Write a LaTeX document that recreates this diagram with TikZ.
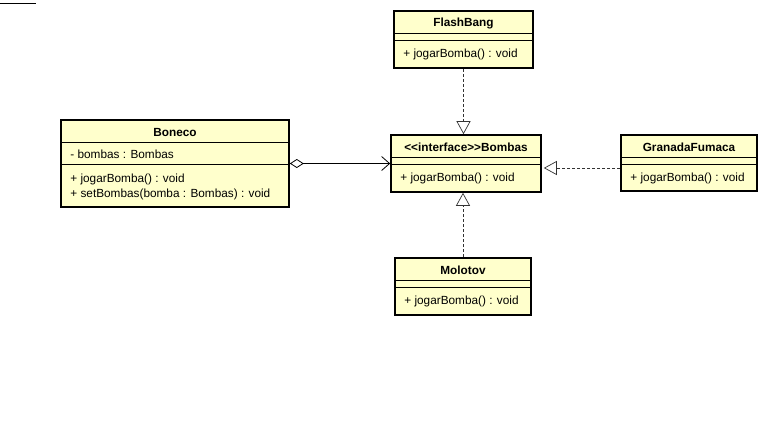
\documentclass[tikz,border=0pt]{standalone}
\usepackage{fontspec}
\setmainfont{Liberation Sans}
\usetikzlibrary{positioning}
\usetikzlibrary{arrows.meta}

\definecolor{umlfill}{HTML}{FFFFCC}

\tikzset{
  classbox/.style={draw=black, line width=1.6pt, fill=umlfill, inner sep=0pt},
  classname/.style={font=\fontsize{11.8pt}{14pt}\selectfont\bfseries, inner sep=0pt},
  member/.style={font=\fontsize{11.8pt}{14pt}\selectfont, inner sep=0pt, anchor=west},
  sep/.style={draw=black, line width=0.8pt},
  realize/.style={draw=black!80, line width=0.7pt, dash pattern=on 3pt off 2pt,
    -{Triangle[open, length=13pt, width=14pt, fill=white]}},
  assoc/.style={draw=black, line width=0.8pt,
    {Diamond[open, length=14pt, width=9pt, fill=white]}-{Straight Barb[length=8pt, width=14pt]}}
}

\begin{document}
\begin{tikzpicture}[x=1pt, y=-1pt]
 \useasboundingbox (0,0) rectangle (762,432);
 \draw[black, line width=0.8pt] (0,3) -- (36,3);

 % classes
 \node[classbox, minimum width=228pt, minimum height=87pt] (boneco) at (175,163.5) {};
 \node[classbox, minimum width=139pt, minimum height=57pt] (flashbang) at (463.5,39.5) {};
 \node[classbox, minimum width=150pt, minimum height=57pt] (bombas) at (466,163.5) {};
 \node[classbox, minimum width=136pt, minimum height=56pt] (granada) at (689,163) {};
 \node[classbox, minimum width=136pt, minimum height=57pt] (molotov) at (463,286.5) {};

 % Boneco
 \node[classname] (boneconame) at ([yshift=-13pt]boneco.north) {Boneco};
 \draw[sep] ([yshift=-23pt]boneco.north west) -- ([yshift=-23pt]boneco.north east);
 \draw[sep] ([yshift=-45pt]boneco.north west) -- ([yshift=-45pt]boneco.north east);
 \node[member] (bonecoattr) at ([xshift=10pt, yshift=-35.5pt]boneco.north west) {- bombas : Bombas};
 \node[member] (bonecojogar) at ([xshift=10pt, yshift=-60pt]boneco.north west) {+ jogarBomba() : void};
 \node[member] (bonecoset) at ([xshift=10pt, yshift=-75pt]boneco.north west) {+ setBombas(bomba : Bombas) : void};

 % FlashBang
 \node[classname] (flashbangname) at ([yshift=-13pt]flashbang.north) {FlashBang};
 \draw[sep] ([yshift=-23pt]flashbang.north west) -- ([yshift=-23pt]flashbang.north east);
 \draw[sep] ([yshift=-30pt]flashbang.north west) -- ([yshift=-30pt]flashbang.north east);
 \node[member] (flashbangjogar) at ([xshift=10pt, yshift=-44.5pt]flashbang.north west) {+ jogarBomba() : void};

 % Bombas
 \node[classname] (bombasname) at ([yshift=-13pt]bombas.north) {<\kern0pt<interface>\kern0pt>Bombas};
 \draw[sep] ([yshift=-23pt]bombas.north west) -- ([yshift=-23pt]bombas.north east);
 \draw[sep] ([yshift=-30pt]bombas.north west) -- ([yshift=-30pt]bombas.north east);
 \node[member] (bombasjogar) at ([xshift=10pt, yshift=-44.5pt]bombas.north west) {+ jogarBomba() : void};

 % GranadaFumaca
 \node[classname] (granadaname) at ([yshift=-13pt]granada.north) {GranadaFumaca};
 \draw[sep] ([yshift=-23pt]granada.north west) -- ([yshift=-23pt]granada.north east);
 \draw[sep] ([yshift=-30pt]granada.north west) -- ([yshift=-30pt]granada.north east);
 \node[member] (granadajogar) at ([xshift=10pt, yshift=-44.5pt]granada.north west) {+ jogarBomba() : void};

 % Molotov
 \node[classname] (molotovname) at ([yshift=-13pt]molotov.north) {Molotov};
 \draw[sep] ([yshift=-23pt]molotov.north west) -- ([yshift=-23pt]molotov.north east);
 \draw[sep] ([yshift=-30pt]molotov.north west) -- ([yshift=-30pt]molotov.north east);
 \node[member] (molotovjogar) at ([xshift=10pt, yshift=-44.5pt]molotov.north west) {+ jogarBomba() : void};

 % relations
 \draw[realize] (flashbang.south) -- (flashbang.south |- bombas.north);
 \draw[realize] (molotov.north) -- (molotov.north |- bombas.south);
 \draw[realize] ([yshift=-5pt]granada.west) -- ([yshift=-5pt, xshift=2pt]granada.west -| bombas.east);
 \draw[assoc] (boneco.east) -- (boneco.east -| bombas.west);
\end{tikzpicture}
\end{document}
